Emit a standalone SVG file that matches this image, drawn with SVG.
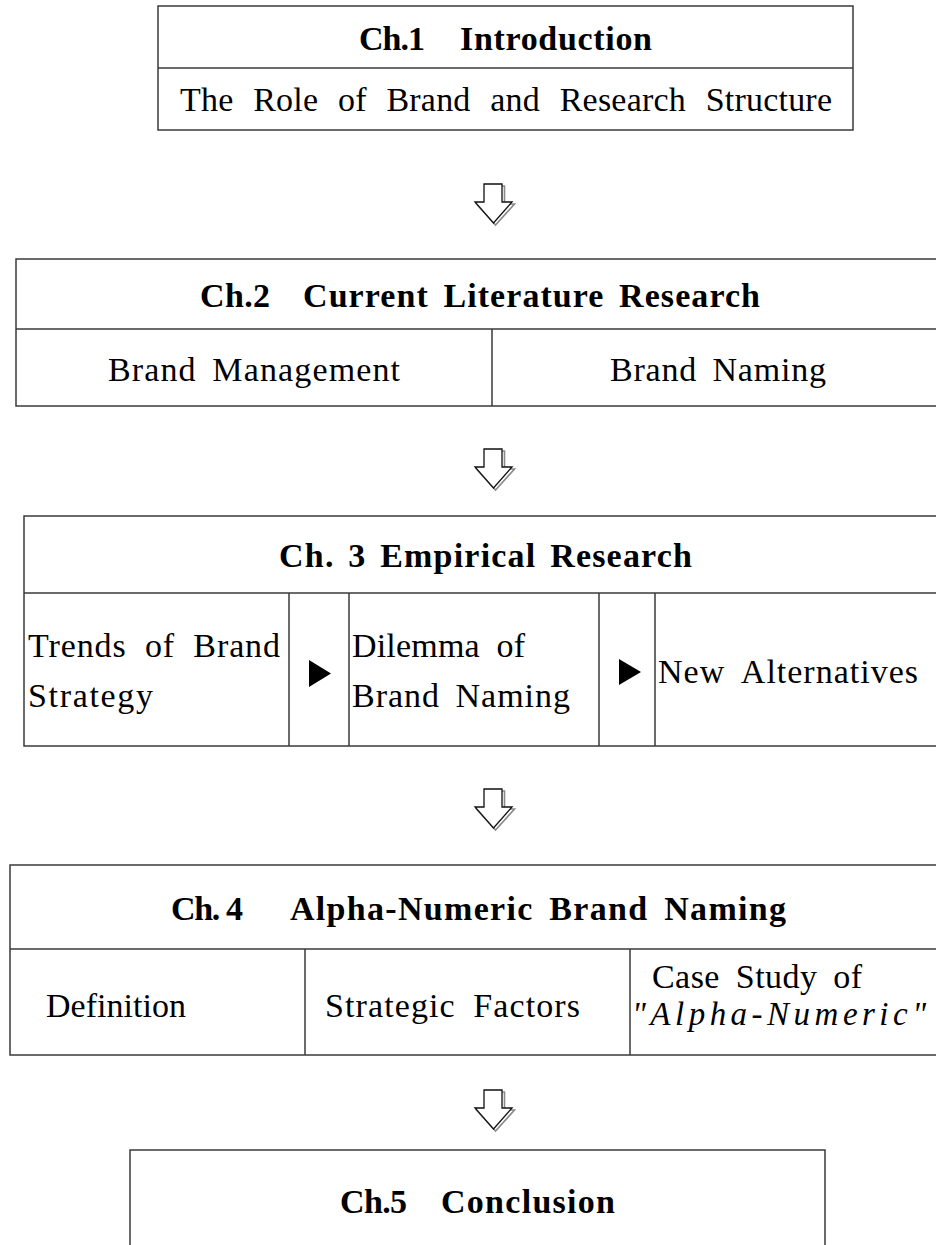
<svg xmlns="http://www.w3.org/2000/svg" width="936" height="1245" viewBox="0 0 936 1245">
  <style>
    .box { fill: #ffffff; stroke: #3a3a3a; stroke-width: 1.5; }
    .ln { stroke: #3a3a3a; stroke-width: 1.5; fill: none; }
    .t { font-family: "Liberation Serif", "Times New Roman", serif; font-size: 34px; fill: #000; }
    .b { font-weight: bold; }
    .it { font-style: italic; font-size: 33px; }
    .arr { fill: #ffffff; stroke: #111; stroke-width: 1.3; stroke-linejoin: miter; }
    .sh { fill: none; stroke: #8a8a8a; stroke-width: 1.6; }
    .tri { fill: #000; }
  </style>
  <defs>
    <g id="bigArrow">
      <polygon class="sh" points="10.5,2 29.5,2 29.5,20 39.5,20 20.5,41 1.5,20 10.5,20"/>
      <polygon class="arr" points="9,0 27,0 27,18 37,18 18.5,39 0,18 9,18"/>
    </g>
  </defs>
  <rect x="0" y="0" width="936" height="1245" fill="#ffffff"/>

  <g id="ch1">
    <rect class="box" x="158" y="6" width="695" height="124"/>
    <line class="ln" x1="158" y1="68" x2="853" y2="68"/>
    <text class="t b" y="50"><tspan x="359" textLength="66" lengthAdjust="spacing">Ch.1</tspan> <tspan x="460" textLength="192" lengthAdjust="spacing">Introduction</tspan></text>
    <text class="t" x="180" y="111" word-spacing="11" textLength="652" lengthAdjust="spacing">The Role of Brand and Research Structure</text>
  </g>

  <g id="ch2">
    <rect class="box" x="16" y="259" width="940" height="147"/>
    <line class="ln" x1="16" y1="329" x2="950" y2="329"/>
    <line class="ln" x1="492" y1="329" x2="492" y2="406"/>
    <text class="t b" y="307"><tspan x="200" textLength="70" lengthAdjust="spacing">Ch.2</tspan> <tspan x="303" textLength="457" lengthAdjust="spacing" word-spacing="5">Current Literature Research</tspan></text>
    <text class="t" x="108" y="381" word-spacing="6" textLength="292" lengthAdjust="spacing">Brand Management</text>
    <text class="t" x="610" y="381" word-spacing="6" textLength="216" lengthAdjust="spacing">Brand Naming</text>
  </g>

  <g id="ch3">
    <rect class="box" x="24" y="516" width="930" height="230"/>
    <line class="ln" x1="24" y1="593" x2="950" y2="593"/>
    <line class="ln" x1="289" y1="593" x2="289" y2="746"/>
    <line class="ln" x1="349" y1="593" x2="349" y2="746"/>
    <line class="ln" x1="599" y1="593" x2="599" y2="746"/>
    <line class="ln" x1="655" y1="593" x2="655" y2="746"/>
    <text class="t b" x="279" y="567" word-spacing="4" textLength="413" lengthAdjust="spacing">Ch. 3 Empirical Research</text>
    <text class="t" x="28" y="657" word-spacing="9" textLength="252" lengthAdjust="spacing">Trends of Brand</text>
    <text class="t" x="28" y="707" textLength="125" lengthAdjust="spacing">Strategy</text>
    <polygon class="tri" points="309,660 331,673.5 309,687"/>
    <text class="t" x="352" y="657" word-spacing="8" textLength="173" lengthAdjust="spacing">Dilemma of</text>
    <text class="t" x="352" y="707" word-spacing="6" textLength="218" lengthAdjust="spacing">Brand Naming</text>
    <polygon class="tri" points="619,659 641,672 619,685"/>
    <text class="t" x="658" y="683" word-spacing="8" textLength="260" lengthAdjust="spacing">New Alternatives</text>
  </g>

  <g id="ch4">
    <rect class="box" x="10" y="865" width="940" height="190"/>
    <line class="ln" x1="10" y1="949" x2="950" y2="949"/>
    <line class="ln" x1="305" y1="949" x2="305" y2="1055"/>
    <line class="ln" x1="630" y1="949" x2="630" y2="1055"/>
    <text class="t b" y="920"><tspan x="171" textLength="72" lengthAdjust="spacing">Ch. 4</tspan> <tspan x="290" textLength="496" lengthAdjust="spacing" word-spacing="6">Alpha-Numeric Brand Naming</tspan></text>
    <text class="t" x="46" y="1017" textLength="140" lengthAdjust="spacing">Definition</text>
    <text class="t" x="325" y="1017" word-spacing="8" textLength="255" lengthAdjust="spacing">Strategic Factors</text>
    <text class="t" x="652" y="988" word-spacing="7" textLength="210" lengthAdjust="spacing">Case Study of</text>
    <text class="t it" x="632" y="1025" textLength="294" lengthAdjust="spacing">"Alpha-Numeric"</text>
  </g>

  <g id="ch5">
    <rect class="box" x="130" y="1150" width="695" height="120"/>
    <text class="t b" y="1213"><tspan x="340" textLength="67" lengthAdjust="spacing">Ch.5</tspan> <tspan x="441" textLength="174" lengthAdjust="spacing">Conclusion</tspan></text>
  </g>

  <g id="connectors">
    <use href="#bigArrow" x="475" y="184"/>
    <use href="#bigArrow" x="475" y="449"/>
    <use href="#bigArrow" x="475" y="789"/>
    <use href="#bigArrow" x="475" y="1090"/>
  </g>
</svg>
